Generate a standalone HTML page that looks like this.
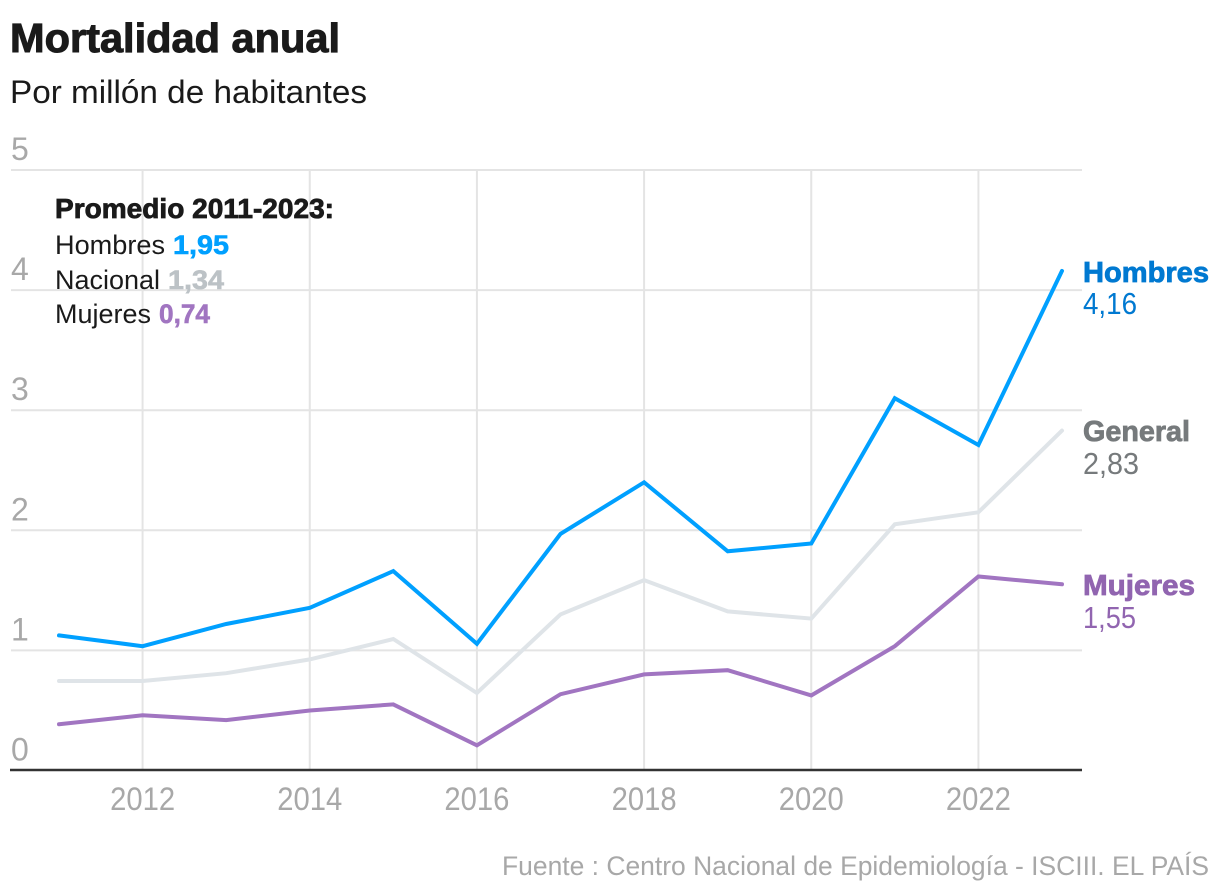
<!DOCTYPE html>
<html lang="es">
<head>
<meta charset="utf-8">
<title>Mortalidad anual</title>
<style>
html,body{margin:0;padding:0;background:#fff;width:1220px;height:896px;overflow:hidden}
svg{display:block}
text{font-family:"Liberation Sans",sans-serif}
</style>
</head>
<body>
<svg id="chart" xmlns="http://www.w3.org/2000/svg" width="1220" height="896" viewBox="0 0 1220 896">
  <text x="10" y="52" font-size="41" font-weight="700" fill="#1a1a1a" stroke="#1a1a1a" stroke-width="1" textLength="330" lengthAdjust="spacingAndGlyphs">Mortalidad anual</text>
  <text x="10" y="103" font-size="32" fill="#1a1a1a" textLength="357" lengthAdjust="spacingAndGlyphs">Por millón de habitantes</text>

  <g id="grid"></g>
  <g id="series"></g>
  <g id="axis"></g>

  <g>
    <text x="55" y="218" font-size="28" font-weight="700" fill="#1a1a1a" stroke="#1a1a1a" stroke-width="0.8" textLength="279" lengthAdjust="spacingAndGlyphs">Promedio 2011-2023:</text>
    <text x="55" y="254" font-size="27" fill="#1a1a1a" textLength="110" lengthAdjust="spacingAndGlyphs">Hombres</text>
    <text x="173" y="254" font-size="27" font-weight="700" fill="#00a0ff" stroke="#00a0ff" stroke-width="0.6" textLength="56" lengthAdjust="spacingAndGlyphs">1,95</text>
    <text x="55" y="289" font-size="27" fill="#1a1a1a" textLength="105" lengthAdjust="spacingAndGlyphs">Nacional</text>
    <text x="168" y="289" font-size="27" font-weight="700" fill="#bcc2c6" stroke="#bcc2c6" stroke-width="0.6" textLength="56" lengthAdjust="spacingAndGlyphs">1,34</text>
    <text x="55" y="323" font-size="27" fill="#1a1a1a" textLength="96" lengthAdjust="spacingAndGlyphs">Mujeres</text>
    <text x="159" y="323" font-size="27" font-weight="700" fill="#a175c1" stroke="#a175c1" stroke-width="0.6" textLength="51" lengthAdjust="spacingAndGlyphs">0,74</text>
  </g>

  <g>
    <text x="1083" y="282" font-size="29" font-weight="700" fill="#0079d1" stroke="#0079d1" stroke-width="0.8" textLength="126" lengthAdjust="spacingAndGlyphs">Hombres</text>
    <text x="1083" y="314" font-size="31" fill="#0079d1" textLength="54" lengthAdjust="spacingAndGlyphs">4,16</text>
    <text x="1083" y="441" font-size="29" font-weight="700" fill="#767a7c" stroke="#767a7c" stroke-width="0.8" textLength="107" lengthAdjust="spacingAndGlyphs">General</text>
    <text x="1083" y="474" font-size="31" fill="#767a7c" textLength="56" lengthAdjust="spacingAndGlyphs">2,83</text>
    <text x="1083" y="595" font-size="29" font-weight="700" fill="#9165b0" stroke="#9165b0" stroke-width="0.8" textLength="112" lengthAdjust="spacingAndGlyphs">Mujeres</text>
    <text x="1083" y="628" font-size="31" fill="#9165b0" textLength="53" lengthAdjust="spacingAndGlyphs">1,55</text>
  </g>

  <text x="1209" y="875" text-anchor="end" font-size="27" fill="#a8a8a8" textLength="707" lengthAdjust="spacingAndGlyphs">Fuente : Centro Nacional de Epidemiología - ISCIII. EL PAÍS</text>
</svg>
<script>
const years = [2011, 2012, 2013, 2014, 2015, 2016, 2017, 2018, 2019, 2020, 2021, 2022, 2023];
const hombres = [1.125, 1.035, 1.22, 1.355, 1.66, 1.055, 1.97, 2.40, 1.825, 1.89, 3.10, 2.71, 4.16];
const general = [0.745, 0.745, 0.81, 0.925, 1.095, 0.645, 1.30, 1.585, 1.325, 1.265, 2.05, 2.15, 2.83];
const mujeres = [0.385, 0.46, 0.42, 0.50, 0.55, 0.21, 0.635, 0.80, 0.835, 0.625, 1.035, 1.615, 1.55];
const yTicks = [0, 1, 2, 3, 4, 5];
const xTicks = [2012, 2014, 2016, 2018, 2020, 2022];

const NS = 'http://www.w3.org/2000/svg';
function xScale(year) { return 59 + (year - 2011) * (1003 / 12); }
function yScale(value) { return 770.5 - value * 120.1; }

function make(tag, parent, attrs) {
  const el = document.createElementNS(NS, tag);
  for (const key in attrs) el.setAttribute(key, attrs[key]);
  parent.appendChild(el);
  return el;
}

const grid = document.getElementById('grid');
const axis = document.getElementById('axis');
const seriesGroup = document.getElementById('series');

yTicks.forEach(function (tick) {
  if (tick !== 0) {
    const line = make('line', grid, { x1: 11, x2: 1082, y1: yScale(tick), y2: yScale(tick), stroke: '#e4e4e4', 'stroke-width': 2 });
    
    
  }
  const label = make('text', axis, { x: 11, y: yScale(tick) - 10, 'font-size': 32, fill: '#a8a8a8' });
  
  
  label.textContent = String(tick);
});

xTicks.forEach(function (tick) {
  const line = make('line', grid, { x1: xScale(tick), x2: xScale(tick), y1: yScale(5), y2: yScale(0), stroke: '#e4e4e4', 'stroke-width': 2 });
  
  
  const label = make('text', axis, { x: xScale(tick), y: 810, 'font-size': 32, fill: '#a8a8a8', 'text-anchor': 'middle', textLength: 65, lengthAdjust: 'spacingAndGlyphs' });
  
  
  label.textContent = String(tick);
});

const baseline = make('line', axis, { x1: 10, x2: 1082, y1: 770, y2: 770, stroke: '#333333', 'stroke-width': 2.4 });



function drawSeries(values, color, name) {
  const points = values.map(function (v, i) { return xScale(years[i]).toFixed(1) + ',' + yScale(v).toFixed(1); }).join(' ');
  const line = make('polyline', seriesGroup, { points: points, fill: 'none', stroke: color, 'stroke-width': 4, 'stroke-linejoin': 'miter', 'stroke-linecap': 'round' });
  
  
}

drawSeries(general, '#dfe4e8', 'line-general');
drawSeries(hombres, '#00a0ff', 'line-hombres');
drawSeries(mujeres, '#a175c1', 'line-mujeres');
</script>
</body>
</html>
